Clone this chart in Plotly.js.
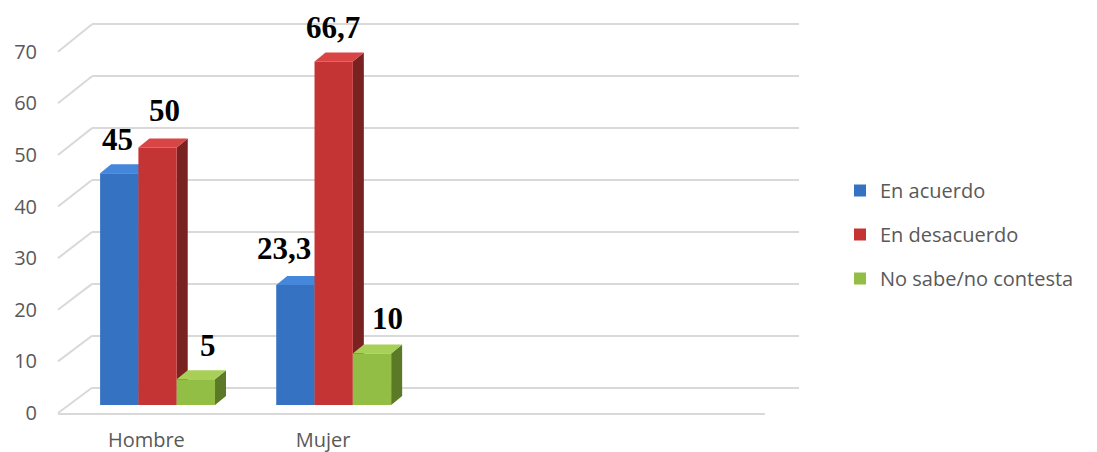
<!DOCTYPE html>
<html><head><meta charset="utf-8">
<script src="https://cdn.plot.ly/plotly-3.0.1.min.js"></script>
<style>html,body{margin:0;padding:0;background:#fff}</style>
</head><body><div id="chart" style="width:1097px;height:452px"></div>
<script>
// ---- data ----
const categories = ['Hombre', 'Mujer'];
const seriesNames = ['En acuerdo', 'En desacuerdo', 'No sabe/no contesta'];
const enAcuerdo = [45, 23.3];
const enDesacuerdo = [50, 66.7];
const noSabe = [5, 10];
const yTickValues = [0, 10, 20, 30, 40, 50, 60, 70];

// ---- style / layout constants ----
const series = [enAcuerdo, enDesacuerdo, noSabe];
const W = 1097, H = 452;
const px = v => v / W, py = v => 1 - v / H;
const FRONT = {x0: 58, x1: 765, yb: 413, yt: 51.7};
const BACK = {x0: 92, x1: 799, yb: 387.7, yt: 24.3};
const BARS = {x0: 69.5, x1: 774, yb: 405, yt: 44.5};
const YMAX = 70;
const PADV = 0.6;               // back-wall range padding so end gridlines draw
const backUnit = (BACK.yb - BACK.yt) / YMAX;
const XR = [-0.5, 3.5];
const barW = 0.2175;
const depthX = 11 / 176.1, depthY = 9 / 5.15;
const frontColors = ['#3572C2', '#C43434', '#93BE45'];
const topColors = ['#4587DA', '#D94545', '#A8D058'];
const sideColors = ['#24497C', '#7A2121', '#5B7927'];
const labelXShift = [[-2, -12], [6, -1], [12, 15]];
const labelYShift = [5, 8, 8, 5, 5, 7];
const gridColor = '#D9D9D9';
const textColor = '#595959';
const baseFont = 'Open Sans, Noto Sans, sans-serif';

const traces = [];
// receding faces (top + side) drawn below the bar fronts
series.forEach((vals, j) => {
  vals.forEach((v, i) => {
    const c = i + (j - 1) * barW;
    const x0 = c - barW / 2, x1 = c + barW / 2;
    traces.push({
      type: 'scatter', mode: 'lines', xaxis: 'x3', yaxis: 'y3',
      x: [x1, x1 + depthX, x1 + depthX, x1, x1],
      y: [0, depthY, v + depthY, v, 0],
      fill: 'toself', fillcolor: sideColors[j], line: {width: 0, color: sideColors[j]},
      showlegend: false, hoverinfo: 'skip'
    });
    traces.push({
      type: 'scatter', mode: 'lines', xaxis: 'x3', yaxis: 'y3',
      x: [x0, x1, x1 + depthX, x0 + depthX, x0],
      y: [v, v, v + depthY, v + depthY, v],
      fill: 'toself', fillcolor: topColors[j], line: {width: 0, color: topColors[j]},
      showlegend: false, hoverinfo: 'skip'
    });
  });
});
// bar fronts
series.forEach((vals, j) => {
  traces.push({
    type: 'bar', xaxis: 'x4', yaxis: 'y4', name: seriesNames[j],
    x: categories.map((c, i) => i), y: vals,
    marker: {color: frontColors[j], line: {width: 0}},
    legendgroup: 'g' + j, hoverinfo: 'skip'
  });
});
// anchor traces for the front (category) frame and the back wall
traces.push({type: 'scatter', mode: 'markers', xaxis: 'x2', yaxis: 'y2',
  x: [], y: [], showlegend: false, hoverinfo: 'skip'});
traces.push({type: 'scatter', mode: 'markers', xaxis: 'x', yaxis: 'y',
  x: [], y: [], showlegend: false, hoverinfo: 'skip'});

// value labels
const annotations = [];
let k = 0;
series.forEach((vals, j) => {
  vals.forEach((v, i) => {
    const c = i + (j - 1) * barW + depthX / 2;
    annotations.push({
      xref: 'x4', yref: 'y4', x: c, y: v + depthY,
      text: String(v).replace('.', ','), showarrow: false,
      xanchor: 'center', yanchor: 'bottom',
      xshift: labelXShift[j][i] - 5, yshift: labelYShift[k++],
      font: {family: 'Liberation Serif, Times New Roman, serif', size: 31, color: '#000', weight: 'bold'}
    });
  });
});

// left wall diagonals
const shapes = yTickValues.map(v => {
  const yf = FRONT.yb - v * (FRONT.yb - FRONT.yt) / YMAX;
  const yb = BACK.yb - v * backUnit;
  return {type: 'line', xref: 'paper', yref: 'paper', layer: 'below',
    x0: px(FRONT.x0), y0: py(yf), x1: px(BACK.x0), y1: py(yb),
    line: {color: gridColor, width: 2}};
});

const layout = {
  width: W, height: H, margin: {l: 0, r: 0, t: 0, b: 0},
  paper_bgcolor: '#fff', plot_bgcolor: 'rgba(0,0,0,0)',
  showlegend: true, barmode: 'group', bargap: 1 - 3 * barW, bargroupgap: 0,
  font: {family: baseFont, size: 20, color: textColor},
  // back wall
  xaxis: {domain: [px(BACK.x0), px(BACK.x1)], range: [0, 1], visible: false, anchor: 'y'},
  yaxis: {domain: [py(BACK.yb + PADV * backUnit), py(BACK.yt - PADV * backUnit)],
    range: [-PADV, YMAX + PADV], anchor: 'x',
    tickvals: yTickValues, showgrid: true, gridcolor: gridColor, gridwidth: 2,
    showticklabels: false, zeroline: false, showline: false, ticks: ''},
  // front frame
  xaxis2: {domain: [px(FRONT.x0), px(FRONT.x1)], range: XR, anchor: 'y2',
    tickvals: categories.map((c, i) => i), ticktext: categories,
    showgrid: false, zeroline: false, showline: true, linecolor: gridColor, linewidth: 2,
    ticks: '', ticklabelstandoff: 8, tickfont: {size: 20, color: textColor}},
  yaxis2: {domain: [py(FRONT.yb), py(FRONT.yt)], range: [0, YMAX], anchor: 'x2',
    tickvals: yTickValues, showgrid: false, zeroline: false, showline: false,
    ticks: '', ticklabelstandoff: 20, tickfont: {size: 20, color: textColor}},
  // bar frame
  xaxis3: {domain: [px(BARS.x0), px(BARS.x1)], range: XR, anchor: 'y3', visible: false},
  yaxis3: {domain: [py(BARS.yb), py(BARS.yt)], range: [0, YMAX], anchor: 'x3', visible: false},
  xaxis4: {overlaying: 'x3', range: XR, anchor: 'y4', visible: false},
  yaxis4: {overlaying: 'y3', range: [0, YMAX], anchor: 'x4', visible: false},
  legend: {x: px(840), y: py(171), xanchor: 'left', yanchor: 'top',
    traceorder: 'grouped', tracegroupgap: 15,
    font: {family: baseFont, size: 20, color: textColor}, bgcolor: 'rgba(0,0,0,0)'},
  annotations: annotations,
  shapes: shapes
};

Plotly.newPlot('chart', traces, layout, {staticPlot: true, displayModeBar: false});
</script>
</body></html>
